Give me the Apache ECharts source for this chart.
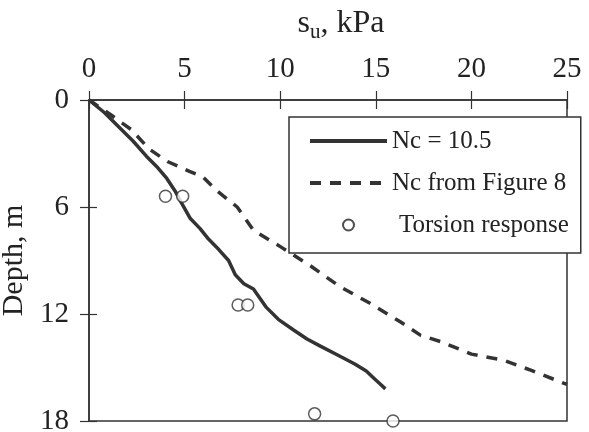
<!DOCTYPE html>
<html>
<head>
<meta charset="utf-8">
<script src="https://cdn.jsdelivr.net/npm/echarts@6/dist/echarts.min.js"></script>
<style>
  html, body { margin: 0; padding: 0; background: #fff; }
  #fig { width: 589px; height: 432px; }
</style>
</head>
<body>
<div id="fig"></div>
<script>
var suTicks = [0, 5, 10, 15, 20, 25];
var depthTicks = [0, 6, 12, 18];

// su (kPa), depth (m)
var ncConst = [[0, 0], [0.8, 0.7], [1.55, 1.5], [2.3, 2.3], [3.0, 3.15], [3.6, 3.8], [4.07, 4.4], [4.5, 5.1],
  [4.8, 5.7], [5.3, 6.65], [5.8, 7.2], [6.25, 7.8], [6.8, 8.4], [7.3, 9.0], [7.65, 9.8], [8.1, 10.3],
  [8.6, 10.6], [9.25, 11.6], [9.9, 12.3], [10.7, 12.9], [11.4, 13.4], [12.1, 13.8], [13.0, 14.3],
  [13.9, 14.8], [14.5, 15.2], [14.9, 15.6], [15.2, 15.9], [15.5, 16.2]];
var ncFig8 = [[0, 0], [1.1, 0.8], [2.2, 1.65], [3.15, 2.75], [4.1, 3.45], [5.25, 4.0], [5.95, 4.3],
  [6.7, 5.1], [7.75, 6.0], [8.6, 7.3], [10.05, 8.25], [11.65, 9.35], [13.1, 10.45], [14.7, 11.4],
  [16.3, 12.45], [17.35, 13.2], [18.4, 13.55], [20.0, 14.25], [21.7, 14.6], [23.1, 15.15],
  [24.4, 15.7], [25.0, 15.95]];
var torsion = [[4.0, 5.4], [4.9, 5.4], [7.8, 11.5], [8.3, 11.5], [11.8, 17.6], [15.9, 18.0]];

var serifFont = '"Liberation Serif", "Times New Roman", serif';
var ink = '#333';

var chart = echarts.init(document.getElementById('fig'));
var option = {
  backgroundColor: '#fff',
  textStyle: { fontFamily: serifFont, color: '#222' },
  grid: {
    left: 89, right: 22, top: 100, bottom: 11,
    containLabel: false, outerBoundsMode: 'none',
    show: true, borderColor: ink, borderWidth: 1.5, backgroundColor: 'transparent'
  },
  legend: {
    orient: 'vertical',
    left: 289, top: 117,
    padding: [10, 12, 14, 19],
    itemWidth: 77, itemHeight: 11, itemGap: 14,
    backgroundColor: '#fff', borderColor: ink, borderWidth: 1.5,
    textStyle: { fontFamily: serifFont, fontSize: 25, color: '#222', lineHeight: 28 },
    data: [
      { name: 'Nc = 10.5', itemStyle: { opacity: 0 }, lineStyle: { width: 4 } },
      { name: 'Nc from Figure 8', itemStyle: { opacity: 0 }, lineStyle: { width: 4 } },
      { name: 'Torsion response', itemStyle: { borderColor: '#222' }, textStyle: { padding: [0, 0, 0, 7] } }
    ]
  },
  xAxis: [
    {
      type: 'value', position: 'top',
      min: suTicks[0], max: suTicks[suTicks.length - 1], interval: suTicks[1] - suTicks[0],
      name: '{s|s}{sub|u}{s|, kPa}', nameLocation: 'middle', nameGap: 57,
      nameTextStyle: {
        padding: [0, 0, 0, 26],
        rich: {
          s: { fontFamily: serifFont, fontSize: 32, lineHeight: 38, color: '#222' },
          sub: { fontFamily: serifFont, fontSize: 21, lineHeight: 21, verticalAlign: 'bottom', color: '#222' }
        }
      },
      axisLine: { show: true, lineStyle: { color: ink, width: 1.5 } },
      axisTick: { show: true, length: 9, lineStyle: { color: ink, width: 1.2 } },
      axisLabel: { fontSize: 29, margin: 16, color: '#222', fontFamily: serifFont },
      splitLine: { show: false }
    },
    {
      type: 'value', position: 'top',
      min: suTicks[0], max: suTicks[suTicks.length - 1], interval: suTicks[1] - suTicks[0],
      axisLine: { show: false },
      axisTick: { show: true, inside: true, length: 9, lineStyle: { color: ink, width: 1.2 } },
      axisLabel: { show: false },
      splitLine: { show: false }
    }
  ],
  yAxis: [
    {
      type: 'value', inverse: true,
      min: depthTicks[0], max: depthTicks[depthTicks.length - 1], interval: depthTicks[1] - depthTicks[0],
      name: 'Depth, m', nameLocation: 'middle', nameGap: 20,
      nameTextStyle: { fontFamily: serifFont, fontSize: 30, color: '#222' },
      axisLine: { show: true, lineStyle: { color: ink, width: 1.5 } },
      axisTick: { show: true, length: 9, lineStyle: { color: ink, width: 1.2 } },
      axisLabel: { fontSize: 29, margin: 20, color: '#222', fontFamily: serifFont },
      splitLine: { show: false }
    },
    {
      type: 'value', inverse: true, position: 'left',
      min: depthTicks[0], max: depthTicks[depthTicks.length - 1], interval: depthTicks[1] - depthTicks[0],
      axisLine: { show: false },
      axisTick: { show: true, inside: true, length: 8, lineStyle: { color: ink, width: 1.2 } },
      axisLabel: { show: false },
      splitLine: { show: false }
    }
  ],
  series: [
    {
      name: 'Nc = 10.5', type: 'line', data: ncConst,
      symbol: 'none', smooth: false,
      lineStyle: { color: ink, width: 3.5 },
      itemStyle: { color: ink }
    },
    {
      name: 'Nc from Figure 8', type: 'line', data: ncFig8,
      symbol: 'none', smooth: false,
      lineStyle: { color: ink, width: 3.5, type: [11, 9] },
      itemStyle: { color: ink }
    },
    {
      name: 'Torsion response', type: 'scatter', data: torsion,
      symbol: 'circle', symbolSize: 12,
      itemStyle: { color: '#fff', borderColor: ink, borderWidth: 1.5 },
      z: 5
    }
  ]
};
chart.setOption(option);
</script>
</body>
</html>
